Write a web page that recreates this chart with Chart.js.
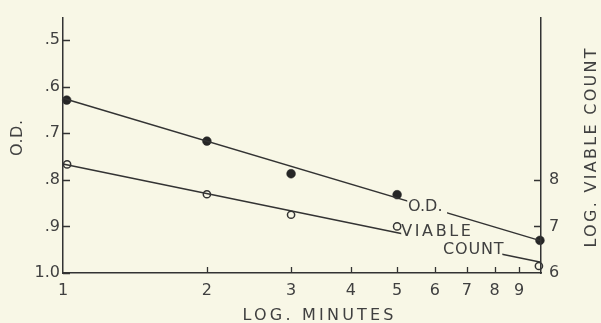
<!DOCTYPE html>
<html><head><meta charset="utf-8">
<script src="https://cdn.jsdelivr.net/npm/chart.js@4"></script>
<style>
html,body{margin:0;padding:0;background:#f8f7e6;}
#wrap{width:601px;height:323px;position:relative;}
canvas{display:block;}
</style></head><body>
<div id="wrap"><canvas id="c" width="601" height="323"></canvas></div>
<script>
// ---- data ----
const odMinutes = [1.018, 2, 3, 5, 9.95];
const odValues = [0.629, 0.717, 0.787, 0.832, 0.930];
const viableMinutes = [1.02, 2, 3, 5, 9.9];
const viableValues = [8.33, 7.69, 7.25, 7.0, 6.15];
const odFitMinutes = [1, 10];
const odFitValues = [0.625, 0.931];
const viableFitMinutes = [1, 10];
const viableFitValues = [8.34, 6.23];
const xTickValues = [1, 2, 3, 4, 5, 6, 7, 8, 9];
const xTickLabels = ['1', '2', '3', '4', '5', '6', '7', '8', '9'];
const odTickValues = [0.5, 0.6, 0.7, 0.8, 0.9, 1.0];
const odTickLabels = ['.5', '.6', '.7', '.8', '.9', '1.0'];
const viableTickValues = [6, 7, 8];
const viableTickLabels = ['6', '7', '8'];

// ---- styling ----
const INK = '#333333';
const TEXT = '#404040';
const PAPER = '#f8f7e6';
const FONT = '"DejaVu Sans", sans-serif';

const pts = (xs, ys) => xs.map((x, i) => ({x, y: ys[i]}));

// gaps in the fitted lines where the labels sit (in minutes)
const lineGaps = {odFit: [5.25, 6.36], viableFit: [5.1, 8.3]};
// in-plot labels (anchored in data coordinates)
const plotLabels = [
  {text: 'O.D.', x: 5.27, y: 0.866, axis: 'yOD', spacing: 0},
  {text: 'VIABLE', x: 5.1, y: 6.79, axis: 'yV', spacing: 2.6},
  {text: 'COUNT', x: 6.24, y: 6.41, axis: 'yV', spacing: 0.8}
];

const paperPlugin = {
  id: 'paper',
  beforeDraw(chart) {
    const c = chart.ctx;
    c.save(); c.fillStyle = PAPER; c.fillRect(0, 0, chart.width, chart.height); c.restore();
  }
};

const gapPlugin = {
  id: 'gaps',
  beforeDatasetDraw(chart, args) {
    const ds = chart.data.datasets[args.index];
    const g = lineGaps[ds.key];
    if (!g) return;
    const x = chart.scales.x;
    const a = x.getPixelForValue(g[0]), b = x.getPixelForValue(g[1]);
    const c = chart.ctx;
    c.save();
    c.beginPath();
    c.rect(0, 0, a, chart.height);
    c.rect(b, 0, chart.width - b, chart.height);
    c.clip();
  },
  afterDatasetDraw(chart, args) {
    const ds = chart.data.datasets[args.index];
    if (lineGaps[ds.key]) chart.ctx.restore();
  }
};

function spacedText(c, text, x, y, spacing, align) {
  c.letterSpacing = spacing + 'px';
  let w = c.measureText(text).width;
  let sx = x;
  if (align === 'center') sx = x - (w - spacing) / 2;
  c.textAlign = 'left';
  c.fillText(text, sx, y);
  c.letterSpacing = '0px';
}

const decorPlugin = {
  id: 'decor',
  afterDraw(chart) {
    const c = chart.ctx;
    const {x, yOD, yV} = chart.scales;
    const area = chart.chartArea;
    c.save();
    c.strokeStyle = INK; c.lineWidth = 1.3;
    c.beginPath();
    odTickValues.forEach(v => {
      const y = Math.round(yOD.getPixelForValue(v)) + 0.5;
      c.moveTo(area.left, y); c.lineTo(area.left + 7, y);
    });
    xTickValues.slice(1).forEach(v => {
      const px = Math.round(x.getPixelForValue(v)) + 0.5;
      c.moveTo(px, area.bottom); c.lineTo(px, area.bottom - 6);
    });
    viableTickValues.slice(1).forEach(v => {
      const y = Math.round(yV.getPixelForValue(v)) + 0.5;
      c.moveTo(area.right, y); c.lineTo(area.right - 7, y);
    });
    c.stroke();

    c.fillStyle = TEXT;
    c.font = '16px ' + FONT;
    c.textBaseline = 'alphabetic';
    // x title
    spacedText(c, 'LOG. MINUTES', (area.left + area.right) / 2 + 16, 320, 3.2, 'center');
    // left title
    c.save();
    c.translate(22, 138); c.rotate(-Math.PI / 2);
    spacedText(c, 'O.D.', 0, 0, 0.5, 'center');
    c.restore();
    // right title
    c.save();
    c.translate(596, 148); c.rotate(-Math.PI / 2);
    spacedText(c, 'LOG. VIABLE COUNT', 0, 0, 2.3, 'center');
    c.restore();
    // in-plot labels
    plotLabels.forEach(l => {
      const px = x.getPixelForValue(l.x);
      const py = chart.scales[l.axis].getPixelForValue(l.y);
      spacedText(c, l.text, px, py, l.spacing, 'left');
    });
    c.restore();
  }
};

const axisBorder = {display: true, color: INK, width: 1.5, z: 1};
const noGrid = {drawOnChartArea: false, drawTicks: false, color: 'rgba(0,0,0,0)'};
const tickFont = {family: FONT, size: 16};

new Chart(document.getElementById('c'), {
  type: 'scatter',
  data: {
    datasets: [
      {key: 'odFit', type: 'line', data: pts(odFitMinutes, odFitValues), yAxisID: 'yOD',
       borderColor: INK, borderWidth: 1.4, pointRadius: 0, fill: false, clip: false},
      {key: 'viableFit', type: 'line', data: pts(viableFitMinutes, viableFitValues), yAxisID: 'yV',
       borderColor: INK, borderWidth: 1.4, pointRadius: 0, fill: false, clip: false},
      {key: 'od', data: pts(odMinutes, odValues), yAxisID: 'yOD',
       pointRadius: 4.4, pointBackgroundColor: '#262626', pointBorderColor: '#262626', pointBorderWidth: 0.5, clip: false},
      {key: 'viable', data: pts(viableMinutes, viableValues), yAxisID: 'yV',
       pointRadius: 3.6, pointBackgroundColor: PAPER, pointBorderColor: INK, pointBorderWidth: 1.5, clip: false}
    ]
  },
  options: {
    responsive: false,
    devicePixelRatio: 1,
    animation: false,
    events: [],
    layout: {padding: {top: 10, left: 0, right: 0, bottom: 0}},
    plugins: {legend: {display: false}, tooltip: {enabled: false}},
    scales: {
      x: {
        type: 'logarithmic', position: 'bottom', min: 1, max: 10,
        afterBuildTicks: s => { s.ticks = xTickValues.map(v => ({value: v})); },
        afterFit: s => { s.height = 50; },
        ticks: {autoSkip: false, maxRotation: 0, padding: 8, color: TEXT, font: tickFont,
                callback: (v, i) => xTickLabels[i]},
        grid: noGrid, border: axisBorder
      },
      yOD: {
        type: 'linear', position: 'left', reverse: true, min: 0.452, max: 1.0,
        afterBuildTicks: s => { s.ticks = odTickValues.map(v => ({value: v})); },
        afterFit: s => { s.width = 63; },
        ticks: {padding: 3, color: TEXT, font: tickFont, callback: (v, i) => odTickLabels[i]},
        grid: noGrid, border: axisBorder
      },
      yV: {
        type: 'linear', position: 'right', min: 6, max: 11.48,
        afterBuildTicks: s => { s.ticks = viableTickValues.map(v => ({value: v})); },
        afterFit: s => { s.width = 60; },
        ticks: {padding: 8, color: TEXT, font: tickFont, callback: (v, i) => viableTickLabels[i]},
        grid: noGrid, border: axisBorder
      }
    }
  },
  plugins: [paperPlugin, gapPlugin, decorPlugin]
});
</script>
</body></html>
